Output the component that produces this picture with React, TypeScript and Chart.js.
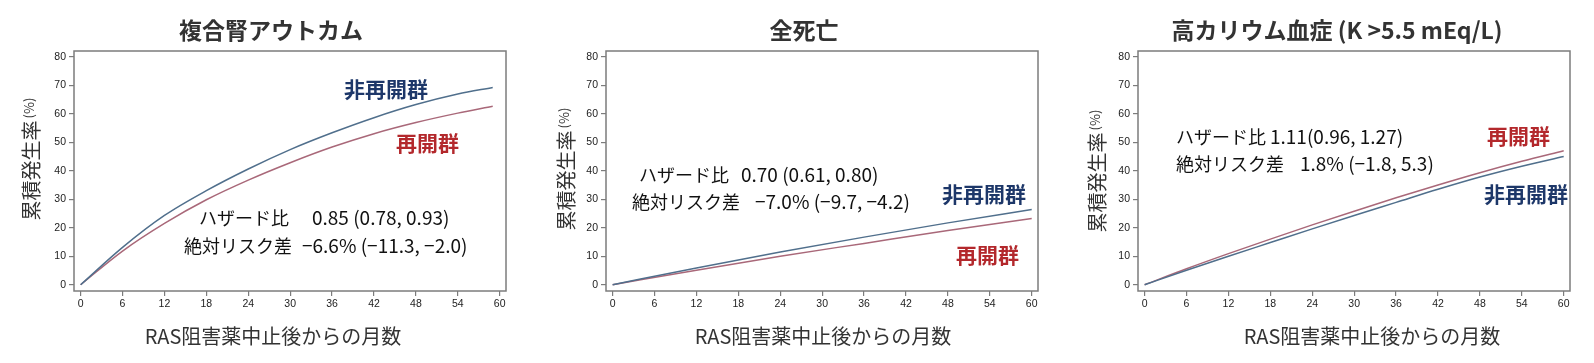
import React, { useEffect, useRef } from "react";
import { Chart, registerables } from "chart.js";

Chart.register(...registerables);

// ---------- data ----------
const xTickValues = [0, 6, 12, 18, 24, 30, 36, 42, 48, 54, 60];
const yTickValues = [0, 10, 20, 30, 40, 50, 60, 70, 80];

const renalMonths = [0, 6, 12, 18, 24, 30, 36, 42, 48, 54, 59];
const renalNonRestart = [0, 13.1, 24.3, 33.0, 40.6, 47.4, 53.3, 58.6, 63.2, 66.9, 69.2];
const renalRestart = [0, 11.8, 21.5, 29.8, 36.7, 42.8, 48.3, 53.0, 56.9, 60.2, 62.6];

const deathMonths = [0, 12, 24, 36, 48, 60];
const deathNonRestart = [0, 5.9, 11.5, 16.7, 21.7, 26.4];
const deathRestart = [0, 5.1, 10.0, 14.5, 19.0, 23.2];

const hyperKMonths = [0, 6, 12, 18, 24, 30, 36, 42, 48, 54, 60];
const hyperKRestart = [0, 5.6, 10.9, 16.0, 21.0, 25.8, 30.5, 35.0, 39.3, 43.3, 47.0];
const hyperKNonRestart = [0, 5.1, 10.0, 14.8, 19.6, 24.3, 28.9, 33.5, 37.8, 41.6, 45.0];

const panelTitles = ["複合腎アウトカム", "全死亡", "高カリウム血症 (K >5.5 mEq/L)"];
const xAxisTitle = "RAS阻害薬中止後からの月数";
const yAxisTitle = "累積発生率";
const yAxisUnit = "(%)";
const nonRestartLabel = "非再開群";
const restartLabel = "再開群";
const hazardLabel = "ハザード比";
const riskLabel = "絶対リスク差";

// ---------- styles ----------
const CJK = '"Noto Sans CJK JP", "Noto Sans", sans-serif';
const BLUE_LINE = "#506f8c";
const RED_LINE = "#a96879";
const NAVY = "#1d3769";
const RED = "#b3282c";

type Seg = { text: string; x: number; font: string };
type TextItem = { segs: Seg[]; y: number; color: string };

type PanelCfg = {
  left: number;
  width: number;
  padRight: number;
  title: string;
  titleX: number;
  xTitleX: number;
  yTitleX: number;
  yTitleY: number;
  months: number[];
  nonRestart: number[];
  restart: number[];
  texts: TextItem[];
};

const jpFont = `18px ${CJK}`;
const numFont = `19px ${CJK}`;
const lblFont = `bold 21px ${CJK}`;
const TXT = "#111";

const panels: PanelCfg[] = [
  {
    left: 0,
    width: 532,
    padRight: 26,
    title: panelTitles[0],
    titleX: 271,
    xTitleX: 273,
    yTitleX: 31,
    yTitleY: 159,
    months: renalMonths,
    nonRestart: renalNonRestart,
    restart: renalRestart,
    texts: [
      {
        segs: [
          { text: hazardLabel, x: 199, font: jpFont },
          { text: "0.85 (0.78, 0.93)", x: 312, font: numFont },
        ],
        y: 218,
        color: TXT,
      },
      {
        segs: [
          { text: riskLabel, x: 184, font: jpFont },
          { text: "−6.6% (−11.3, −2.0)", x: 302, font: numFont },
        ],
        y: 246,
        color: TXT,
      },
      { segs: [{ text: nonRestartLabel, x: 344, font: lblFont }], y: 89, color: NAVY },
      { segs: [{ text: restartLabel, x: 396, font: lblFont }], y: 143, color: RED },
    ],
  },
  {
    left: 532,
    width: 532,
    padRight: 26,
    title: panelTitles[1],
    titleX: 272,
    xTitleX: 291,
    yTitleX: 34,
    yTitleY: 169,
    months: deathMonths,
    nonRestart: deathNonRestart,
    restart: deathRestart,
    texts: [
      {
        segs: [
          { text: hazardLabel, x: 107, font: jpFont },
          { text: "0.70 (0.61, 0.80)", x: 209, font: numFont },
        ],
        y: 175,
        color: TXT,
      },
      {
        segs: [
          { text: riskLabel, x: 100, font: jpFont },
          { text: "−7.0% (−9.7, −4.2)", x: 223, font: numFont },
        ],
        y: 202,
        color: TXT,
      },
      { segs: [{ text: nonRestartLabel, x: 410, font: lblFont }], y: 194, color: NAVY },
      { segs: [{ text: restartLabel, x: 424, font: lblFont }], y: 255, color: RED },
    ],
  },
  {
    left: 1064,
    width: 530,
    padRight: 24,
    title: panelTitles[2],
    titleX: 273,
    xTitleX: 308,
    yTitleX: 33,
    yTitleY: 171,
    months: hyperKMonths,
    nonRestart: hyperKNonRestart,
    restart: hyperKRestart,
    texts: [
      {
        segs: [
          { text: hazardLabel, x: 112, font: jpFont },
          { text: "1.11(0.96, 1.27)", x: 206, font: numFont },
        ],
        y: 137,
        color: TXT,
      },
      {
        segs: [
          { text: riskLabel, x: 112, font: jpFont },
          { text: "1.8% (−1.8, 5.3)", x: 236, font: numFont },
        ],
        y: 164,
        color: TXT,
      },
      { segs: [{ text: restartLabel, x: 423, font: lblFont }], y: 136, color: RED },
      { segs: [{ text: nonRestartLabel, x: 420, font: lblFont }], y: 194, color: NAVY },
    ],
  },
];

const decorPlugin = {
  id: "decor",
  afterDraw(chart: any, _args: any, opts: any) {
    const { ctx, chartArea } = chart;
    ctx.save();
    // frame
    ctx.strokeStyle = "#7c7c7c";
    ctx.lineWidth = 1.5;
    ctx.strokeRect(
      chartArea.left,
      chartArea.top,
      chartArea.right - chartArea.left,
      chartArea.bottom - chartArea.top
    );
    ctx.textBaseline = "middle";
    // title
    ctx.fillStyle = "#333";
    ctx.textAlign = "center";
    ctx.font = `bold 23px ${CJK}`;
    ctx.fillText(opts.title, opts.titleX, 30);
    // x axis title
    ctx.font = `20px ${CJK}`;
    ctx.fillText(xAxisTitle, opts.xTitleX, 336);
    // y axis title
    ctx.save();
    ctx.translate(opts.yTitleX, opts.yTitleY);
    ctx.rotate(-Math.PI / 2);
    ctx.textAlign = "left";
    ctx.font = `20px ${CJK}`;
    const w1 = ctx.measureText(yAxisTitle).width;
    ctx.font = `13px ${CJK}`;
    const w2 = ctx.measureText(yAxisUnit).width;
    const start = -(w1 + w2 + 2) / 2;
    ctx.font = `20px ${CJK}`;
    ctx.fillText(yAxisTitle, start, 0);
    ctx.font = `13px ${CJK}`;
    ctx.fillText(yAxisUnit, start + w1 + 2, -2);
    ctx.restore();
    // annotations
    ctx.textAlign = "left";
    for (const t of opts.texts as TextItem[]) {
      ctx.fillStyle = t.color;
      for (const s of t.segs) {
        ctx.font = s.font;
        ctx.fillText(s.text, s.x, t.y);
      }
    }
    ctx.restore();
  },
};

function Panel({ cfg }: { cfg: PanelCfg }) {
  const ref = useRef<HTMLCanvasElement>(null);
  useEffect(() => {
    if (!ref.current) return;
    const tickFont = { family: '"Liberation Sans", Arial, sans-serif', size: 10.5 };
    const grid = {
      drawOnChartArea: false,
      drawTicks: true,
      tickLength: 5,
      color: "#7c7c7c",
      lineWidth: 1.2,
    };
    const chart = new Chart(ref.current, {
      type: "line",
      data: {
        datasets: [
          {
            label: nonRestartLabel,
            data: cfg.months.map((m, i) => ({ x: m, y: cfg.nonRestart[i] })),
            borderColor: BLUE_LINE,
            borderWidth: 1.5,
            pointRadius: 0,
            cubicInterpolationMode: "monotone",
            fill: false,
          },
          {
            label: restartLabel,
            data: cfg.months.map((m, i) => ({ x: m, y: cfg.restart[i] })),
            borderColor: RED_LINE,
            borderWidth: 1.5,
            pointRadius: 0,
            cubicInterpolationMode: "monotone",
            fill: false,
          },
        ],
      },
      options: {
        animation: false,
        responsive: false,
        devicePixelRatio: 1,
        layout: { padding: { top: 51, left: 0, right: cfg.padRight, bottom: 0 } },
        plugins: {
          legend: { display: false },
          tooltip: { enabled: false },
          title: { display: false },
          decor: {
            title: cfg.title,
            titleX: cfg.titleX,
            xTitleX: cfg.xTitleX,
            yTitleX: cfg.yTitleX,
            yTitleY: cfg.yTitleY,
            texts: cfg.texts,
          },
        } as any,
        scales: {
          x: {
            type: "linear",
            min: -0.95,
            max: 60.9,
            afterBuildTicks: (s: any) => {
              s.ticks = xTickValues.map((v) => ({ value: v }));
            },
            afterFit: (s: any) => {
              s.height = 72;
            },
            grid,
            border: { display: false },
            ticks: {
              font: tickFont,
              color: "#222",
              padding: 2,
              maxRotation: 0,
              autoSkip: false,
              callback: (v: any) => String(v),
            },
          },
          y: {
            type: "linear",
            min: -2.2,
            max: 82,
            afterBuildTicks: (s: any) => {
              s.ticks = yTickValues.map((v) => ({ value: v }));
            },
            afterFit: (s: any) => {
              s.width = 74;
            },
            grid,
            border: { display: false },
            ticks: {
              font: tickFont,
              color: "#222",
              padding: 3,
              autoSkip: false,
              callback: (v: any) => String(v),
            },
          },
        },
      } as any,
      plugins: [decorPlugin],
    });
    return () => chart.destroy();
  }, [cfg]);
  return (
    <canvas
      ref={ref}
      width={cfg.width}
      height={363}
      style={{ position: "absolute", left: cfg.left, top: 0, width: cfg.width, height: 363 }}
    />
  );
}

export default function App() {
  return (
    <div
      style={{
        position: "fixed",
        left: 0,
        top: 0,
        width: 1594,
        height: 363,
        background: "#ffffff",
        overflow: "hidden",
      }}
    >
      {panels.map((p, i) => (
        <Panel key={i} cfg={p} />
      ))}
    </div>
  );
}
